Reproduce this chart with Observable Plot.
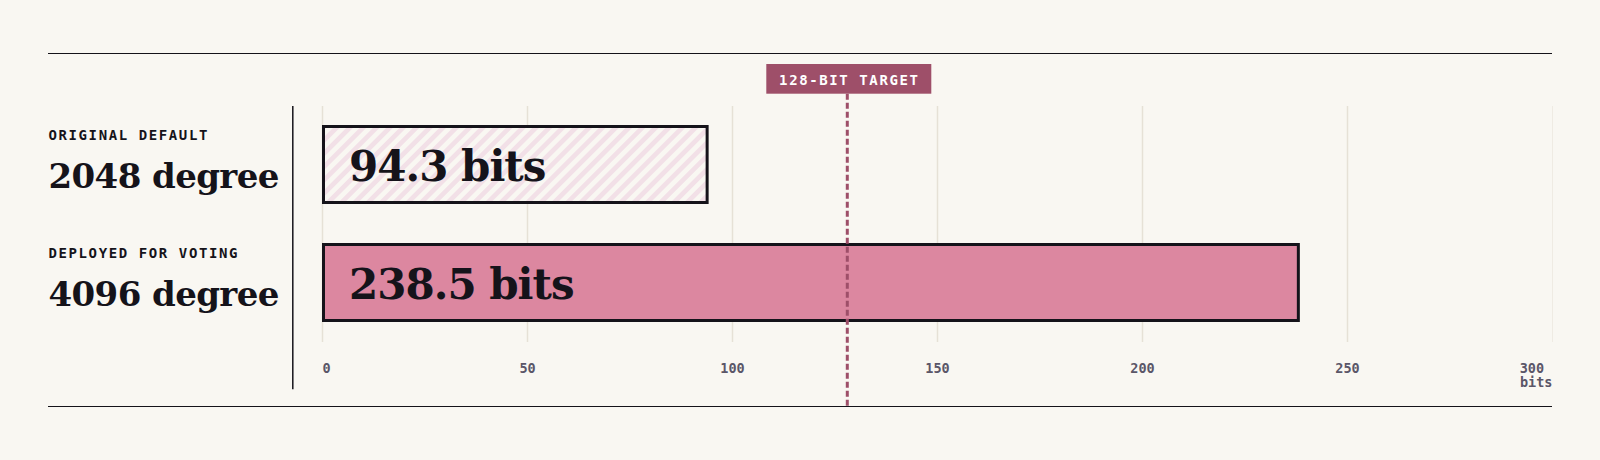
<!DOCTYPE html>
<html>
<head>
<meta charset="utf-8">
<script src="https://cdn.jsdelivr.net/npm/d3@7"></script>
<script src="https://cdn.jsdelivr.net/npm/@observablehq/plot@0.6"></script>
<style>
  html, body { margin: 0; padding: 0; background: #f9f7f2; }
  #fig {
    margin: 53px 0 0 48px;
    width: 1504px;
    border-top: 1px solid #15131a;
    border-bottom: 1px solid #15131a;
    line-height: 0;
  }
  #fig g[font-size="14"] text { letter-spacing: 1.6px; }
  #fig g[font-size="34"] text { letter-spacing: -0.6px; }
  #fig g[font-size="42"] text { letter-spacing: -1px; }
</style>
</head>
<body>
<div id="fig"></div>
<script>
// ---- data ----
const categories = ["ORIGINAL DEFAULT", "DEPLOYED FOR VOTING"];
const degrees = ["2048 degree", "4096 degree"];
const bitValues = [94.3, 238.5];
const barKinds = ["hatch", "solid"];
const tickValues = [0, 50, 100, 150, 200, 250, 300];
const targetBits = [128];
const targetLabels = ["128-BIT TARGET"];
const unitLabel = "bits";

const rows = categories.map((c, i) => ({category: c, degree: degrees[i], bits: bitValues[i], kind: barKinds[i]}));
const target = targetBits.map((b, i) => ({bits: b, label: targetLabels[i]}));

const ink = "#15131a";
const mono = "DejaVu Sans Mono";
const serif = "DejaVu Serif";

function hatchDefs() {
  const defs = d3.create("svg:defs");
  const p = defs.append("pattern")
    .attr("id", "hatch")
    .attr("patternUnits", "userSpaceOnUse")
    .attr("width", 9.4).attr("height", 9.4)
    .attr("patternTransform", "rotate(45)");
  p.append("rect").attr("width", 9.4).attr("height", 9.4).attr("fill", "#f9f7f2");
  p.append("rect").attr("width", 4.7).attr("height", 9.4).attr("fill", "#f2e0e7");
  return defs.node();
}

const chart = Plot.plot({
  width: 1504,
  height: 352,
  marginLeft: 274,
  marginRight: 0,
  marginTop: 52,
  marginBottom: 64,
  style: {background: "transparent", overflow: "visible"},
  x: {domain: [0, 300], axis: null},
  y: {domain: categories, axis: null, paddingInner: 0.33, paddingOuter: 0.1625, align: 0.5},
  marks: [
    hatchDefs,
    Plot.ruleX(tickValues.slice(0, -1), {stroke: "#e6e1d6", strokeWidth: 1.5}),
    Plot.ruleX(tickValues.slice(-1), {stroke: "#efebe3", strokeWidth: 1}),
    Plot.barX(rows.filter(d => d.kind === "hatch"), {
      x: "bits", y: "category", inset: 1.5,
      fill: "url(#hatch)", stroke: ink, strokeWidth: 3
    }),
    Plot.barX(rows.filter(d => d.kind === "solid"), {
      x: "bits", y: "category", inset: 1.5,
      fill: "#dc87a0", stroke: ink, strokeWidth: 3
    }),
    Plot.text(rows, {
      y: "category", text: d => `${d.bits} ${unitLabel}`,
      frameAnchor: "left", textAnchor: "start", lineAnchor: "bottom",
      dx: 26.6, dy: 16.4,
      fontFamily: serif, fontWeight: "bold", fontSize: 42, fill: ink
    }),
    // 128-bit target
    Plot.ruleX(target, {
      x: "bits", stroke: "#9e4f69", strokeWidth: 3, strokeDasharray: "6,3",
      insetTop: -12.3, insetBottom: -64
    }),
    Plot.barX(target, {
      x1: "bits", x2: "bits", fill: "#9e4f69",
      insetLeft: -80.5, insetRight: -84.5, insetTop: -42, insetBottom: 248.3
    }),
    Plot.text(target, {
      x: "bits", text: "label", frameAnchor: "top", lineAnchor: "bottom",
      dx: 2, dy: -22,
      fontFamily: mono, fontWeight: "bold", fontSize: 14, fill: "#ffffff"
    }),
    // separator
    Plot.ruleX([0], {dx: -29.7, insetBottom: -47.3, stroke: ink, strokeWidth: 1.5}),
    // row labels
    Plot.text(rows, {
      y: "category", text: "category",
      frameAnchor: "left", textAnchor: "start", lineAnchor: "bottom",
      dx: -274, dy: -24.6,
      fontFamily: mono, fontWeight: "bold", fontSize: 14, fill: ink
    }),
    Plot.text(rows, {
      y: "category", text: "degree",
      frameAnchor: "left", textAnchor: "start", lineAnchor: "bottom",
      dx: -274, dy: 23.4,
      fontFamily: serif, fontWeight: "bold", fontSize: 34, fill: ink
    }),
    // tick labels
    Plot.text(tickValues.slice(0, 1), {
      x: d => d, text: d => String(d), frameAnchor: "bottom", lineAnchor: "bottom",
      textAnchor: "start", dy: 30.3,
      fontFamily: mono, fontWeight: "bold", fontSize: 13.5, fill: "#5b5668"
    }),
    Plot.text(tickValues.slice(1, -1), {
      x: d => d, text: d => String(d), frameAnchor: "bottom", lineAnchor: "bottom",
      textAnchor: "middle", dy: 30.3,
      fontFamily: mono, fontWeight: "bold", fontSize: 13.5, fill: "#5b5668"
    }),
    Plot.text(tickValues.slice(-1), {
      x: d => d, text: d => String(d), frameAnchor: "bottom", lineAnchor: "bottom",
      textAnchor: "end", dx: -8.4, dy: 30.3,
      fontFamily: mono, fontWeight: "bold", fontSize: 13.5, fill: "#5b5668"
    }),
    Plot.text(tickValues.slice(-1), {
      x: d => d, text: () => unitLabel, frameAnchor: "bottom", lineAnchor: "bottom",
      textAnchor: "end", dy: 44,
      fontFamily: mono, fontWeight: "bold", fontSize: 13.5, fill: "#5b5668"
    })
  ]
});

document.getElementById("fig").appendChild(chart);
</script>
</body>
</html>
